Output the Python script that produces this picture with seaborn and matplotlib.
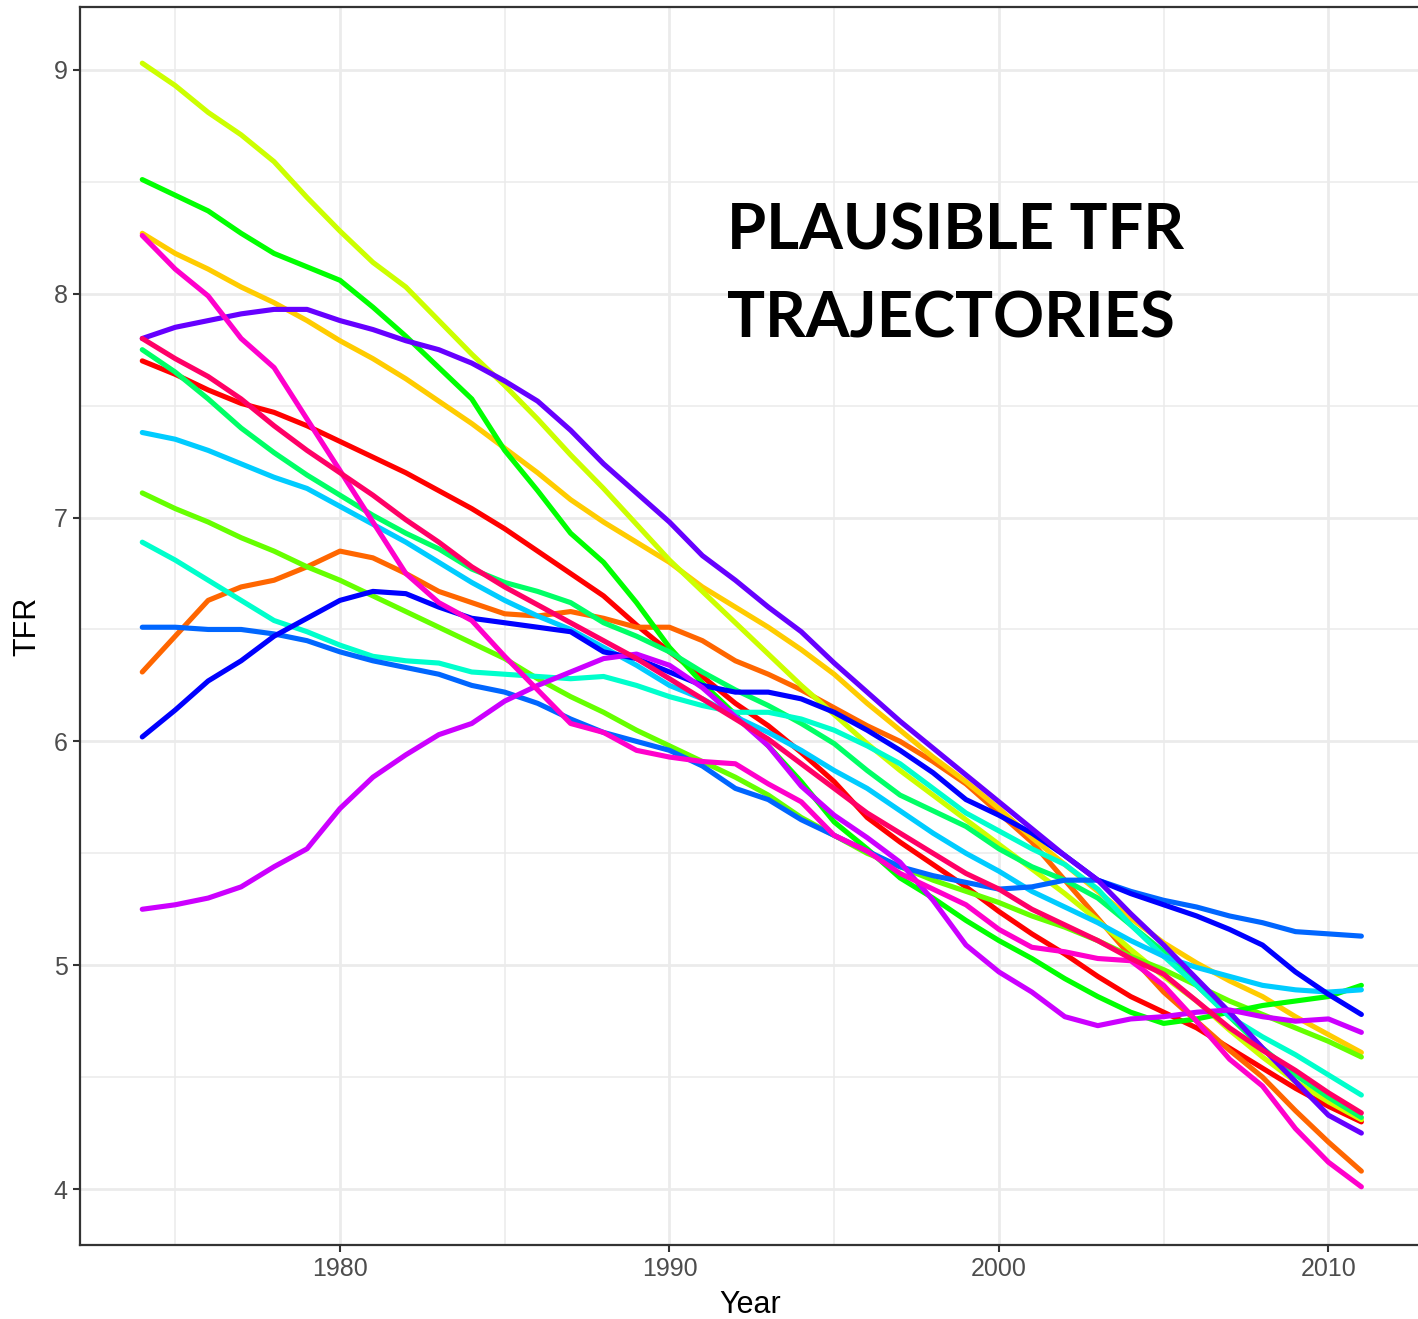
import matplotlib
matplotlib.use("Agg")
import matplotlib.pyplot as plt
from matplotlib.ticker import MultipleLocator
import numpy as np
import pandas as pd
import seaborn as sns

# Simulated total fertility rate trajectories, one value per year 1974-2011
years = list(range(1974, 2012))

traj_yellowgreen = [9.03, 8.93, 8.81, 8.71, 8.59, 8.43, 8.28, 8.14, 8.03, 7.88, 7.73, 7.59, 7.44, 7.28, 7.13, 6.97,
                    6.81, 6.67, 6.53, 6.39, 6.25, 6.12, 5.99, 5.87, 5.76, 5.65, 5.54, 5.43, 5.32, 5.20, 5.07, 4.95,
                    4.84, 4.71, 4.59, 4.48, 4.39, 4.31]
traj_green = [8.51, 8.44, 8.37, 8.27, 8.18, 8.12, 8.06, 7.94, 7.81, 7.67, 7.53, 7.30, 7.12, 6.93, 6.80, 6.62,
              6.42, 6.26, 6.12, 5.98, 5.82, 5.64, 5.52, 5.39, 5.30, 5.20, 5.11, 5.03, 4.94, 4.86, 4.79, 4.74,
              4.76, 4.79, 4.82, 4.84, 4.86, 4.91]
traj_amber = [8.27, 8.18, 8.11, 8.03, 7.96, 7.88, 7.79, 7.71, 7.62, 7.52, 7.42, 7.31, 7.20, 7.08, 6.98, 6.89,
              6.80, 6.69, 6.60, 6.51, 6.41, 6.30, 6.17, 6.05, 5.93, 5.82, 5.70, 5.57, 5.45, 5.33, 5.21, 5.10,
              5.01, 4.93, 4.86, 4.77, 4.69, 4.61]
traj_magenta = [8.26, 8.11, 7.99, 7.80, 7.67, 7.44, 7.21, 6.98, 6.75, 6.62, 6.54, 6.38, 6.23, 6.08, 6.04, 5.96,
                5.93, 5.91, 5.90, 5.81, 5.73, 5.58, 5.51, 5.41, 5.34, 5.27, 5.16, 5.08, 5.06, 5.03, 5.02, 4.91,
                4.75, 4.58, 4.46, 4.27, 4.12, 4.01]
traj_purple = [7.80, 7.85, 7.88, 7.91, 7.93, 7.93, 7.88, 7.84, 7.79, 7.75, 7.69, 7.61, 7.52, 7.39, 7.24, 7.11,
               6.98, 6.83, 6.72, 6.60, 6.49, 6.35, 6.22, 6.09, 5.97, 5.85, 5.73, 5.61, 5.49, 5.38, 5.23, 5.09,
               4.94, 4.79, 4.63, 4.48, 4.33, 4.25]
traj_crimson = [7.80, 7.71, 7.63, 7.53, 7.41, 7.30, 7.20, 7.10, 6.99, 6.89, 6.78, 6.69, 6.61, 6.53, 6.45, 6.37,
                6.28, 6.19, 6.10, 6.01, 5.90, 5.79, 5.68, 5.59, 5.50, 5.41, 5.34, 5.25, 5.18, 5.11, 5.03, 4.96,
                4.84, 4.72, 4.62, 4.53, 4.43, 4.34]
traj_spring = [7.75, 7.65, 7.53, 7.40, 7.29, 7.19, 7.10, 7.01, 6.93, 6.86, 6.77, 6.71, 6.67, 6.62, 6.53, 6.47,
               6.40, 6.31, 6.23, 6.16, 6.08, 5.99, 5.87, 5.76, 5.69, 5.62, 5.52, 5.44, 5.38, 5.30, 5.18, 5.06,
               4.91, 4.77, 4.63, 4.51, 4.41, 4.32]
traj_red = [7.70, 7.64, 7.57, 7.51, 7.47, 7.41, 7.34, 7.27, 7.20, 7.12, 7.04, 6.95, 6.85, 6.75, 6.65, 6.52,
            6.40, 6.29, 6.17, 6.07, 5.95, 5.82, 5.66, 5.55, 5.45, 5.35, 5.24, 5.14, 5.05, 4.95, 4.86, 4.79,
            4.72, 4.63, 4.54, 4.45, 4.37, 4.30]
traj_sky = [7.38, 7.35, 7.30, 7.24, 7.18, 7.13, 7.05, 6.97, 6.89, 6.80, 6.71, 6.63, 6.56, 6.50, 6.42, 6.34,
            6.25, 6.19, 6.11, 6.04, 5.96, 5.87, 5.79, 5.69, 5.59, 5.50, 5.42, 5.33, 5.26, 5.19, 5.11, 5.04,
            4.99, 4.95, 4.91, 4.89, 4.88, 4.89]
traj_chartreuse = [7.11, 7.04, 6.98, 6.91, 6.85, 6.78, 6.72, 6.65, 6.58, 6.51, 6.44, 6.37, 6.28, 6.20, 6.13, 6.05,
                   5.98, 5.91, 5.84, 5.76, 5.66, 5.58, 5.50, 5.44, 5.38, 5.33, 5.28, 5.22, 5.17, 5.11, 5.04, 4.98,
                   4.91, 4.84, 4.78, 4.72, 4.66, 4.59]
traj_aqua = [6.89, 6.81, 6.72, 6.63, 6.54, 6.49, 6.43, 6.38, 6.36, 6.35, 6.31, 6.30, 6.29, 6.28, 6.29, 6.25,
             6.20, 6.16, 6.13, 6.13, 6.10, 6.05, 5.98, 5.90, 5.79, 5.68, 5.60, 5.52, 5.45, 5.34, 5.18, 5.04,
             4.91, 4.77, 4.68, 4.60, 4.51, 4.42]
traj_azure = [6.51, 6.51, 6.50, 6.50, 6.48, 6.45, 6.40, 6.36, 6.33, 6.30, 6.25, 6.22, 6.17, 6.10, 6.04, 6.00,
              5.96, 5.89, 5.79, 5.74, 5.65, 5.58, 5.51, 5.44, 5.40, 5.37, 5.34, 5.35, 5.38, 5.38, 5.33, 5.29,
              5.26, 5.22, 5.19, 5.15, 5.14, 5.13]
traj_orange = [6.31, 6.47, 6.63, 6.69, 6.72, 6.78, 6.85, 6.82, 6.75, 6.67, 6.62, 6.57, 6.56, 6.58, 6.55, 6.51,
               6.51, 6.45, 6.36, 6.30, 6.23, 6.15, 6.07, 6.00, 5.91, 5.81, 5.68, 5.55, 5.38, 5.21, 5.04, 4.88,
               4.75, 4.62, 4.50, 4.35, 4.21, 4.08]
traj_blue = [6.02, 6.14, 6.27, 6.36, 6.47, 6.55, 6.63, 6.67, 6.66, 6.60, 6.55, 6.53, 6.51, 6.49, 6.40, 6.37,
             6.31, 6.25, 6.22, 6.22, 6.19, 6.13, 6.05, 5.96, 5.86, 5.74, 5.67, 5.59, 5.49, 5.38, 5.32, 5.27,
             5.22, 5.16, 5.09, 4.97, 4.87, 4.78]
traj_violet = [5.25, 5.27, 5.30, 5.35, 5.44, 5.52, 5.70, 5.84, 5.94, 6.03, 6.08, 6.18, 6.25, 6.31, 6.37, 6.39,
               6.34, 6.24, 6.11, 5.98, 5.80, 5.67, 5.57, 5.46, 5.29, 5.09, 4.97, 4.88, 4.77, 4.73, 4.76, 4.77,
               4.79, 4.80, 4.77, 4.75, 4.76, 4.70]

series = {
    "T01": (traj_red, "#FF0000"),
    "T02": (traj_orange, "#FF6600"),
    "T03": (traj_amber, "#FFCC00"),
    "T04": (traj_yellowgreen, "#CCFF00"),
    "T05": (traj_chartreuse, "#66FF00"),
    "T06": (traj_green, "#00FF00"),
    "T07": (traj_spring, "#00FF66"),
    "T08": (traj_aqua, "#00FFCC"),
    "T09": (traj_sky, "#00CCFF"),
    "T10": (traj_azure, "#0066FF"),
    "T11": (traj_blue, "#0000FF"),
    "T12": (traj_purple, "#6600FF"),
    "T13": (traj_violet, "#CC00FF"),
    "T14": (traj_magenta, "#FF00CC"),
    "T15": (traj_crimson, "#FF0066"),
}

df = pd.concat(
    [pd.DataFrame({"Year": years, "TFR": vals, "traj": name}) for name, (vals, _) in series.items()],
    ignore_index=True,
)
palette = {name: col for name, (_, col) in series.items()}

sns.set_theme(style="white")
plt.rcParams["font.family"] = ["Liberation Sans", "DejaVu Sans"]

W, H = 1418, 1319
fig = plt.figure(figsize=(W / 100, H / 100), dpi=100)
ax = fig.add_axes([80 / W, (H - 1245) / H, 1341 / W, 1238 / H])

sns.lineplot(data=df, x="Year", y="TFR", hue="traj", palette=palette, linewidth=3.7,
             legend=False, estimator=None, ax=ax)

ax.set_xlim(1972.11, 2012.81)
ax.set_ylim(3.75, 9.281)
ax.xaxis.set_major_locator(MultipleLocator(10))
ax.xaxis.set_minor_locator(MultipleLocator(5))
ax.yaxis.set_major_locator(MultipleLocator(1))
ax.yaxis.set_minor_locator(MultipleLocator(0.5))
ax.grid(which="major", color="#EBEBEB", linewidth=2.0)
ax.grid(which="minor", color="#EBEBEB", linewidth=1.1)
ax.set_axisbelow(True)

ax.tick_params(which="major", direction="out", length=5, width=1.5, color="#333333",
               labelsize=18, labelcolor="#4D4D4D", pad=4, bottom=True, left=True)
ax.tick_params(which="minor", length=0)
for sp in ax.spines.values():
    sp.set_color("#333333")
    sp.set_linewidth(1.6)

ax.set_xlabel("Year", fontsize=22, color="black", labelpad=6)
ax.set_ylabel("TFR", fontsize=22, color="black", labelpad=8)

title_font = dict(family=["Lato", "DejaVu Sans"], weight="bold", fontsize=45.5, color="black")
fig.text(727 / W, 1 - 250 / H, "PLAUSIBLE TFR", va="baseline", ha="left", **title_font)
fig.text(727 / W, 1 - 338 / H, "TRAJECTORIES", va="baseline", ha="left", **title_font)

fig.savefig("out.png", dpi=100)
